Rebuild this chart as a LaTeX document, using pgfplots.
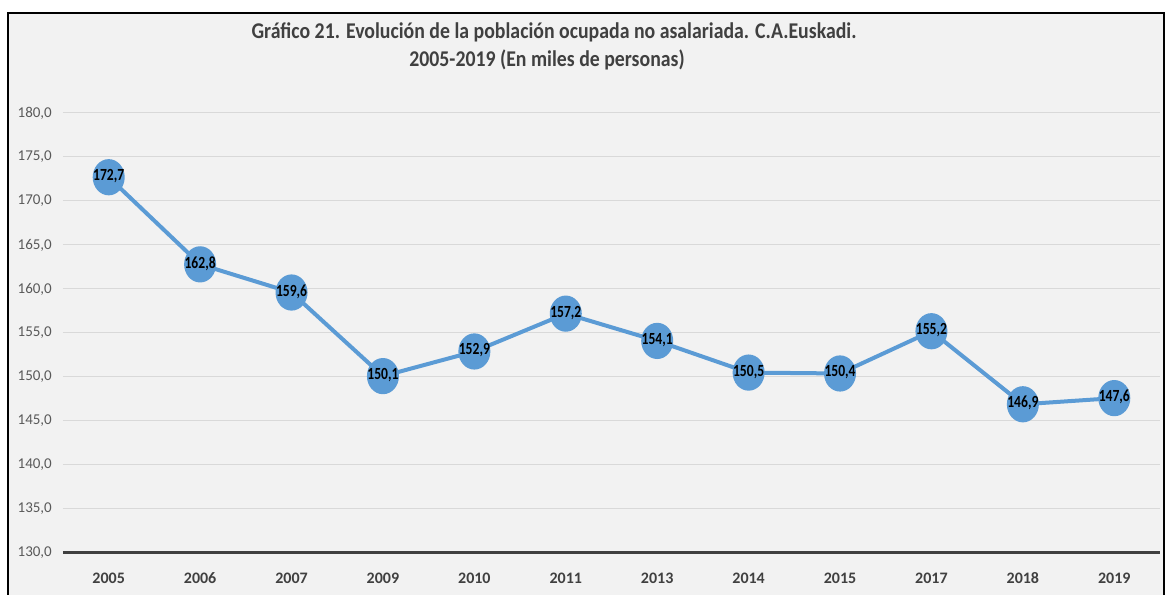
\documentclass[border=0pt]{standalone}
\usepackage{pgfplots}
\pgfplotsset{compat=1.18}
\usepackage{fontspec}
\setmainfont{Carlito}
\newfontfamily\condfont[FakeStretch=0.8]{Carlito}
\newfontfamily\titlefont[FakeStretch=0.88]{Carlito}
\definecolor{bgc}{HTML}{F2F2F2}
\definecolor{gridc}{HTML}{D9D9D9}
\definecolor{txt}{HTML}{595959}
\definecolor{dtxt}{HTML}{404040}
\definecolor{ser}{HTML}{5B9BD5}
\begin{document}
\begin{tikzpicture}[x=1pt,y=1pt]
\fill[white] (0,0) rectangle (1169,595);
\fill[bgc] (8,0) rectangle (1164,582);
\draw[line width=2pt, black] (8,0) -- (8,582) -- (1164,582) -- (1164,0);
\node[font=\titlefont\bfseries\fontsize{22.5}{26}\selectfont, text=dtxt] at (554,563) {Gráfico 21. Evolución de la población ocupada no asalariada. C.A.Euskadi.};
\node[font=\titlefont\bfseries\fontsize{22.5}{26}\selectfont, text=dtxt] at (547,535) {2005-2019 (En miles de personas)};
\begin{axis}[
  at={(63pt,42pt)}, anchor=south west,
  scale only axis, width=1097pt, height=440pt,
  xmin=-0.5, xmax=11.5, ymin=130, ymax=180,
  ytick={130,135,...,180},
  xtick={0,...,11},
  xticklabels={2005,2006,2007,2009,2010,2011,2013,2014,2015,2017,2018,2019},
  axis line style={draw=none},
  major tick length=0pt,
  ymajorgrids, grid style={gridc, line width=1pt},
  /pgf/number format/.cd, fixed, fixed zerofill, precision=1, use comma, assume math mode=true,
  /pgfplots/.cd,
  yticklabel style={font=\fontsize{15}{17}\selectfont, text=txt, inner sep=0pt, anchor=east, xshift=-11pt},
  xticklabel style={font=\bfseries\fontsize{16}{18}\selectfont, text=dtxt, inner sep=0pt, anchor=base, yshift=-31pt},
  nodes near coords,
  every node near coord/.append style={anchor=center, font=\condfont\bfseries\fontsize{17}{19}\selectfont, text=black, inner sep=0pt, yshift=1pt},
  clip=false,
]
\draw[dtxt, line width=3pt] (axis cs:-0.5,130) -- (axis cs:11.5,130);
\addplot[ser, line width=4pt, mark=*, mark size=14pt, mark options={fill=ser, draw=none, yscale=1.15}] coordinates {
(0,172.7) (1,162.8) (2,159.6) (3,150.1) (4,152.9) (5,157.2) (6,154.1) (7,150.5) (8,150.4) (9,155.2) (10,146.9) (11,147.6)
};
\end{axis}
\end{tikzpicture}
\end{document}
